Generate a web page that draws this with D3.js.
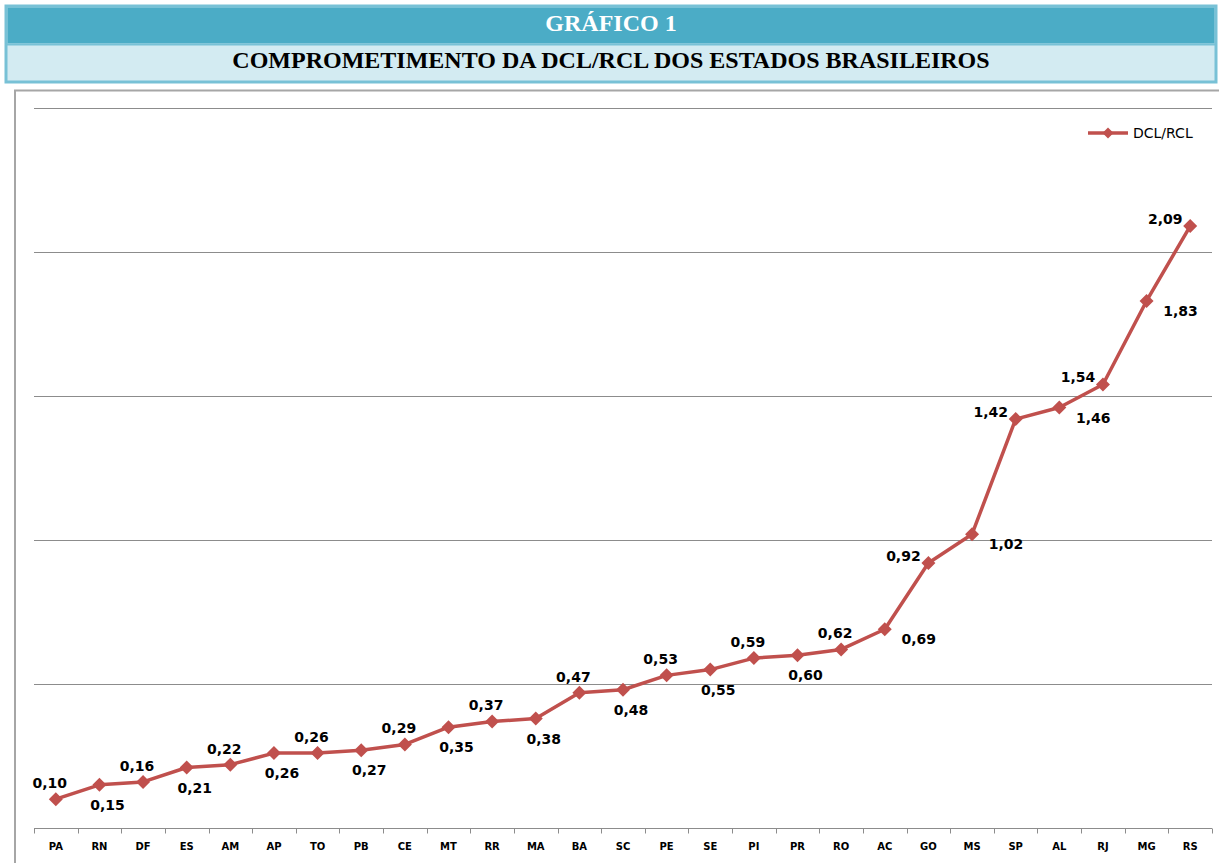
<!DOCTYPE html>
<html>
<head>
<meta charset="utf-8">
<script src="https://cdn.jsdelivr.net/npm/d3@7"></script>
<style>
  body { margin: 0; background: #fff; }
  svg { display: block; }
</style>
</head>
<body>
<script>
// estados ordenados pelo comprometimento
var estados = ["PA","RN","DF","ES","AM","AP","TO","PB","CE","MT","RR","MA","BA","SC",
               "PE","SE","PI","PR","RO","AC","GO","MS","SP","AL","RJ","MG","RS"];
var dclRcl = [0.10,0.15,0.16,0.21,0.22,0.26,0.26,0.27,0.29,0.35,0.37,0.38,0.47,0.48,
              0.53,0.55,0.59,0.60,0.62,0.69,0.92,1.02,1.42,1.46,1.54,1.83,2.09];
// posicao do rotulo de dados (t = acima, b = abaixo, l = esquerda, r = direita)
var rotuloPos = ["t","b","t","b","t","b","t","b","t","b","t","b","t","b",
                 "t","b","t","b","t","r","l","r","l","r","l","r","l"];
var yTicks = [0.5, 1, 1.5, 2, 2.5];
var titulo = "GRÁFICO 1";
var subtitulo = "COMPROMETIMENTO DA DCL/RCL DOS ESTADOS BRASILEIROS";
var serieNome = "DCL/RCL";

var width = 1219, height = 863;
var cor = "#C0504D";

var svg = d3.select("body").append("svg")
  .attr("width", width)
  .attr("height", height);

// caixa do titulo
svg.append("rect").attr("x", 6).attr("y", 6).attr("width", 1210).attr("height", 76)
  .attr("fill", "#D3EBF2").attr("stroke", "#78C1D6").attr("stroke-width", 3);
svg.append("rect").attr("x", 7.5).attr("y", 7.5).attr("width", 1207).attr("height", 36)
  .attr("fill", "#4BACC6");
svg.append("line").attr("x1", 6).attr("x2", 1216).attr("y1", 44.5).attr("y2", 44.5)
  .attr("stroke", "#78C1D6").attr("stroke-width", 2);
svg.append("text").attr("x", 611).attr("y", 31)
  .attr("text-anchor", "middle")
  .style("font-family", "'Liberation Serif', 'Times New Roman', serif")
  .style("font-weight", "bold").style("font-size", "24px")
  .attr("fill", "#fff").text(titulo);
svg.append("text").attr("x", 611).attr("y", 68)
  .attr("text-anchor", "middle")
  .style("font-family", "'Liberation Serif', 'Times New Roman', serif")
  .style("font-weight", "bold").style("font-size", "24px")
  .attr("fill", "#000").text(subtitulo);

// moldura do grafico
svg.append("path").attr("d", "M15,863V90.5H1219")
  .attr("fill", "none").attr("stroke", "#A6A6A6").attr("stroke-width", 2);

var x = d3.scaleBand().domain(estados).range([34, 1212]);
var y = d3.scaleLinear().domain([0, 2.5]).range([828, 108]);
var cx = function(d) { return x(d) + x.bandwidth() / 2; };

// linhas de grade
svg.append("g").selectAll("line").data(yTicks).enter().append("line")
  .attr("x1", 34).attr("x2", 1212)
  .attr("y1", function(d) { return Math.round(y(d)) + 0.5; })
  .attr("y2", function(d) { return Math.round(y(d)) + 0.5; })
  .attr("stroke", "#8C8C8C").attr("stroke-width", 1);

// eixo x
var xAxis = svg.append("g").attr("transform", "translate(0," + 828.5 + ")");
xAxis.append("line").attr("x1", 34).attr("x2", 1212)
  .attr("stroke", "#8C8C8C").attr("stroke-width", 1.2);
var tickPos = estados.map(function(d) { return x(d); }).concat([x.range()[1]]);
xAxis.selectAll("line.tick").data(tickPos).enter().append("line")
  .attr("class", "tick")
  .attr("x1", function(d) { return Math.round(d) + 0.5; })
  .attr("x2", function(d) { return Math.round(d) + 0.5; })
  .attr("y1", 0).attr("y2", 5)
  .attr("stroke", "#8C8C8C");
xAxis.selectAll("text").data(estados).enter().append("text")
  .attr("x", cx).attr("y", 21)
  .attr("text-anchor", "middle")
  .style("font-family", "'DejaVu Sans', sans-serif")
  .style("font-weight", "bold").style("font-size", "10px")
  .attr("fill", "#000").text(function(d) { return d; });

// serie
var dados = estados.map(function(e, i) { return { uf: e, v: dclRcl[i], pos: rotuloPos[i] }; });
var linha = d3.line().x(function(d) { return cx(d.uf); }).y(function(d) { return y(d.v); });
svg.append("path").datum(dados).attr("d", linha)
  .attr("fill", "none").attr("stroke", cor).attr("stroke-width", 3.5)
  .attr("stroke-linejoin", "round");

var losango = function(r) { return "M0," + (-r) + "L" + r + ",0L0," + r + "L" + (-r) + ",0Z"; };
svg.append("g").selectAll("path").data(dados).enter().append("path")
  .attr("transform", function(d) { return "translate(" + cx(d.uf) + "," + y(d.v) + ")"; })
  .attr("d", losango(7)).attr("fill", cor);

// rotulos de dados
var desloc = { t: [-6, -11], b: [8, 25], l: [-25, -2], r: [34, 15] };
svg.append("g").selectAll("text").data(dados).enter().append("text")
  .attr("x", function(d) { return cx(d.uf) + desloc[d.pos][0]; })
  .attr("y", function(d) { return y(d.v) + desloc[d.pos][1]; })
  .attr("text-anchor", "middle")
  .style("font-family", "'DejaVu Sans', sans-serif")
  .style("font-weight", "bold").style("font-size", "14px")
  .attr("fill", "#000")
  .text(function(d) { return d3.format(".2f")(d.v).replace(".", ","); });

// legenda
var leg = svg.append("g").attr("transform", "translate(1088,133)");
leg.append("line").attr("x1", 0).attr("x2", 40).attr("stroke", cor).attr("stroke-width", 3.5);
leg.append("path").attr("transform", "translate(20,0)").attr("d", losango(5.5)).attr("fill", cor);
leg.append("text").attr("x", 45).attr("y", 5)
  .style("font-family", "'DejaVu Sans', sans-serif").style("font-size", "14px")
  .attr("fill", "#000").text(serieNome);
</script>
</body>
</html>
